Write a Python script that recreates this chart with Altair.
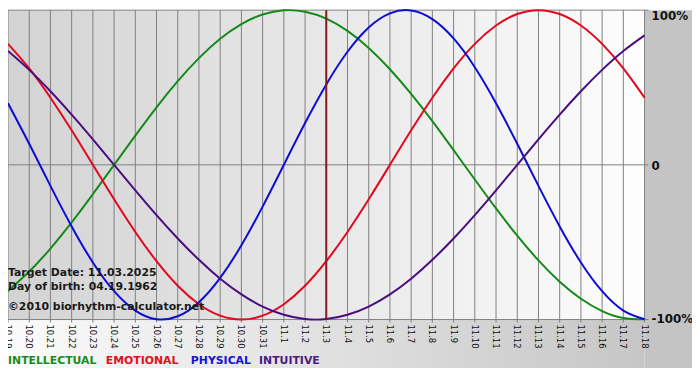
import altair as alt
import pandas as pd

# ---- data ----
dates = ["10.19", "10.20", "10.21", "10.22", "10.23", "10.24", "10.25", "10.26",
         "10.27", "10.28", "10.29", "10.30", "10.31", "11.1", "11.2", "11.3",
         "11.4", "11.5", "11.6", "11.7", "11.8", "11.9", "11.10", "11.11",
         "11.12", "11.13", "11.14", "11.15", "11.16", "11.17", "11.18"]

physical = [0.398, 0.136, -0.136, -0.398, -0.631, -0.817, -0.942, -0.998,
            -0.979, -0.888, -0.731, -0.520, -0.270, 0.000, 0.270, 0.520,
            0.731, 0.888, 0.979, 0.998, 0.942, 0.817, 0.631, 0.398,
            0.136, -0.136, -0.398, -0.631, -0.817, -0.942, -0.998]

emotional = [0.782, 0.623, 0.434, 0.223, 0.000, -0.223, -0.434, -0.623,
             -0.782, -0.901, -0.975, -1.000, -0.975, -0.901, -0.782, -0.623,
             -0.434, -0.223, 0.000, 0.223, 0.434, 0.623, 0.782, 0.901,
             0.975, 1.000, 0.975, 0.901, 0.782, 0.623, 0.434]

intellectual = [-0.815, -0.690, -0.541, -0.372, -0.189, 0.000, 0.189, 0.372,
                0.541, 0.690, 0.815, 0.910, 0.972, 0.999, 0.990, 0.945,
                0.866, 0.756, 0.618, 0.458, 0.282, 0.095, -0.095, -0.282,
                -0.458, -0.618, -0.756, -0.866, -0.945, -0.990, -0.999]

intuitive = [0.736, 0.614, 0.476, 0.325, 0.165, 0.000, -0.165, -0.325,
             -0.476, -0.614, -0.736, -0.837, -0.916, -0.969, -0.997, -0.997,
             -0.969, -0.916, -0.837, -0.736, -0.614, -0.476, -0.325, -0.165,
             0.000, 0.165, 0.325, 0.476, 0.614, 0.736, 0.837]

series_names = ["INTELLECTUAL", "EMOTIONAL", "PHYSICAL", "INTUITIVE"]
series_colors = ["#148a18", "#e3061c", "#0c0cd4", "#4b0c80"]
legend_colors = ["#1a8a1a", "#e0101a", "#1414d2", "#4b1a86"]

target_date = "11.3"
y_ticks = [1, 0, -1]
y_labels = ["100%", "0", "-100%"]
info_lines = ["Target Date: 11.03.2025", "Day of birth: 04.19.1962",
              "\u00a92010 biorhythm-calculator.net"]

# ---- layout ----
W, H = 644, 313
FULL_W, FULL_H = 692, 372
FRAME_BOTTOM = 362

rows = []
for name, vals in zip(series_names, [intellectual, emotional, physical, intuitive]):
    for d, v in zip(dates, vals):
        rows.append({"date": d, "series": name, "value": v})
df = pd.DataFrame(rows)
dates_df = pd.DataFrame({"date": dates})
one = pd.DataFrame({"a": [0]})

x_enc = alt.X("date:O", sort=dates,
              scale=alt.Scale(type="point", padding=0, domain=dates), axis=None)
y_scale = alt.Scale(domain=[-1, 1], nice=False, zero=False)

plot_grad = alt.LinearGradient(
    gradient="linear",
    stops=[alt.GradientStop(offset=0, color="#d3d3d3"),
           alt.GradientStop(offset=1, color="#fdfdfd")],
    x1=0, x2=1, y1=0, y2=0)
strip_grad = alt.LinearGradient(
    gradient="linear",
    stops=[alt.GradientStop(offset=0, color="#fbfbfb"),
           alt.GradientStop(offset=1, color="#c6c6c6")],
    x1=0, x2=1, y1=0, y2=0)

layers = []

# frame: right panel
layers.append(alt.Chart(one).mark_rect(fill="#c4c4c4").encode(
    x=alt.value(W), x2=alt.value(FULL_W), y=alt.value(0), y2=alt.value(FRAME_BOTTOM)))
# frame: bottom strip
layers.append(alt.Chart(one).mark_rect(fill=strip_grad).encode(
    x=alt.value(0), x2=alt.value(W), y=alt.value(H), y2=alt.value(FRAME_BOTTOM)))
# plot background
layers.append(alt.Chart(one).mark_rect(fill=plot_grad).encode(
    x=alt.value(0), x2=alt.value(W), y=alt.value(0), y2=alt.value(H)))

# vertical day grid lines (with small ticks)
layers.append(alt.Chart(dates_df).mark_rule(color="#808080", strokeWidth=1).encode(
    x=x_enc, y=alt.value(0), y2=alt.value(H + 3)))

# horizontal lines at 100%, 0, -100%
layers.append(alt.Chart(pd.DataFrame({"v": y_ticks})).mark_rule(
    color="#808080", strokeWidth=1).encode(
    y=alt.Y("v:Q", scale=y_scale, axis=None), x=alt.value(0), x2=alt.value(W + 4)))

# biorhythm curves
layers.append(alt.Chart(df).mark_line(strokeWidth=2, interpolate="natural").encode(
    x=x_enc,
    y=alt.Y("value:Q", scale=y_scale, axis=None),
    color=alt.Color("series:N", scale=alt.Scale(domain=series_names, range=series_colors),
                    legend=None)))

# target date line
layers.append(alt.Chart(pd.DataFrame({"date": [target_date]})).mark_rule(
    color="#861a1a", strokeWidth=2).encode(x=x_enc, y=alt.value(0), y2=alt.value(H)))

# date labels (rotated)
layers.append(alt.Chart(dates_df).mark_text(
    angle=90, align="left", baseline="middle", font="DejaVu Sans",
    fontSize=8.5, color="#111111").encode(x=x_enc, y=alt.value(H + 5), text="date:N"))

# right percent labels
lab_df = pd.DataFrame({"v": y_ticks, "t": y_labels})
for i, (bl, dy) in enumerate([("top", 1), ("middle", 1), ("middle", 0)]):
    layers.append(alt.Chart(lab_df.iloc[[i]]).mark_text(
        align="left", baseline=bl, dy=dy, font="DejaVu Sans", fontWeight="bold",
        fontSize=12, color="#111111").encode(
        y=alt.Y("v:Q", scale=y_scale, axis=None), x=alt.value(W + 7), text="t:N"))

# info texts
for txt, yb in zip(info_lines, [269, 283, 303]):
    layers.append(alt.Chart(pd.DataFrame({"t": [txt]})).mark_text(
        align="left", baseline="alphabetic", font="DejaVu Sans", fontWeight="bold",
        fontSize=11, color="#1a1a1a").encode(x=alt.value(0), y=alt.value(yb), text="t:N"))

# legend texts
for name, col, xp in zip(series_names, legend_colors, [0, 99, 185, 254]):
    layers.append(alt.Chart(pd.DataFrame({"t": [name]})).mark_text(
        align="left", baseline="alphabetic", font="DejaVu Sans", fontWeight="bold",
        fontSize=11, color=col).encode(x=alt.value(xp), y=alt.value(358), text="t:N"))

chart = alt.layer(*layers).properties(
    width=W, height=H,
    autosize=alt.AutoSizeParams(type="none"),
    padding={"left": 0, "top": 0, "right": FULL_W - W, "bottom": FULL_H - H},
    background="white",
).configure_view(stroke=None)

chart.save("out.html", embed_options={"renderer": "svg", "actions": False})
